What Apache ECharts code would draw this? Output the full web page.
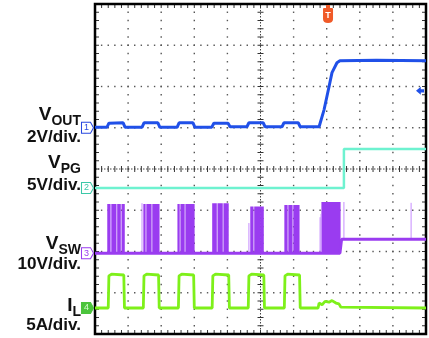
<!DOCTYPE html>
<html>
<head>
<meta charset="utf-8">
<script src="https://cdn.jsdelivr.net/npm/echarts@6/dist/echarts.min.js"></script>
<style>
  html, body { margin: 0; padding: 0; background: #fff; }
  #main { width: 429px; height: 338px; }
</style>
</head>
<body>
<div id="main"></div>
<script>
// time axis in scope divisions (0..10), each trace in its own unit

// channel setup: volts (or amps) per division and zero-marker offset (div from centre)
const chScale = [2, 5, 10, 5];
const chOffset = [1.0, -0.46, -2.04, -3.37];

// channel labels: main letter, subscript, scale text
const chName = ['V', 'V', 'V', 'I'];
const chSub = ['OUT', 'PG', 'SW', 'L'];
const chDiv = ['2V/div.', '5V/div.', '10V/div.', '5A/div.'];

// CH1 VOUT (V)
const vout = [
  [0, 0.02], [0.36, 0.02], [0.42, 0.22], [0.85, 0.24], [0.91, 0.02],
  [1.42, 0.02], [1.48, 0.24], [1.90, 0.24], [1.96, 0.02],
  [2.48, 0.02], [2.54, 0.24], [2.96, 0.24], [3.02, 0.02],
  [3.53, 0.03], [3.59, 0.22], [4.02, 0.22], [4.08, 0.05],
  [4.59, 0.05], [4.65, 0.24], [5.08, 0.24], [5.14, 0.05],
  [5.65, 0.05], [5.71, 0.24], [6.14, 0.24], [6.20, 0.05],
  [6.77, 0.05], [6.92, 0.87], [7.07, 1.99], [7.16, 2.67], [7.31, 3.15],
  [7.40, 3.25], [8.5, 3.27], [10, 3.25]
];

// CH2 VPG (V)
const vpg = [[0, 0], [7.52, 0], [7.52, 4.73], [10, 4.73]];

// CH3 VSW (V): baseline, switching bursts and lone spikes
const vswBase = [[0, 0], [7.40, 0], [7.45, 3.4], [10, 3.4]];
const vswBursts = [
  [0.39, 0.42, 0.45, 0.51, 0.54, 0.57, 0.60, 0.63, 0.69, 0.73, 0.76, 0.82, 0.85, 0.88],
  [1.48, 1.51, 1.57, 1.60, 1.63, 1.66, 1.69, 1.75, 1.78, 1.81, 1.84, 1.87, 1.90, 1.93],
  [2.51, 2.54, 2.60, 2.63, 2.66, 2.69, 2.75, 2.78, 2.81, 2.84, 2.87, 2.90, 2.93, 2.96, 2.99],
  [3.56, 3.60, 3.63, 3.66, 3.72, 3.75, 3.78, 3.81, 3.84, 3.90, 3.93, 3.96, 3.99, 4.02],
  [4.71, 4.74, 4.77, 4.83, 4.86, 4.89, 4.92, 4.95, 4.98, 5.02, 5.05, 5.08],
  [5.74, 5.77, 5.80, 5.86, 5.89, 5.92, 5.95, 6.01, 6.04, 6.07, 6.10, 6.13, 6.16],
  [6.86, 6.89, 6.92, 6.95, 6.98, 7.01, 7.04, 7.07, 7.10, 7.13, 7.16, 7.19, 7.22, 7.25, 7.28, 7.31, 7.34, 7.37, 7.40]
];
const vswBurstTop = [11.9, 11.9, 11.9, 12.1, 11.3, 11.7, 12.4];
const vswLight = [[0.48, 11.9], [1.42, 12.1], [4.65, 7.3], [6.80, 8.7], [6.83, 9.5], [7.52, 12.4], [9.55, 12.2]];

// CH4 IL (A)
const il = [
  [0, 0], [0.40, 0], [0.42, 3.9], [0.50, 4.1], [0.87, 4.0], [0.89, 0],
  [1.46, 0], [1.48, 3.9], [1.56, 4.1], [1.92, 4.0], [1.94, 0],
  [2.52, 0], [2.54, 3.9], [2.62, 4.1], [2.98, 4.0], [3.00, 0],
  [3.54, 0], [3.56, 3.9], [3.64, 4.1], [4.04, 4.0], [4.06, 0],
  [4.63, 0], [4.65, 3.9], [4.73, 4.1], [5.10, 4.0], [5.12, 0],
  [5.72, 0], [5.74, 3.9], [5.82, 4.1], [6.18, 4.0], [6.20, 0],
  [6.74, 0], [6.77, 0.6], [6.86, 0.4], [6.95, 0.8], [7.07, 0.7], [7.16, 0.9],
  [7.28, 0.6], [7.37, 0.5], [7.43, 0.1], [10, 0]
];

const colors = { vout: '#2050e8', vpg: '#6ef2d0', vsw: '#9a3cf0', vswLight: '#c68cff', il: '#7ef01a', trig: '#f05a28' };
const tagColors = ['#2848e0', '#3cc8a8', '#9a3cf0', '#4cc43c'];

const chart = echarts.init(document.getElementById('main'));

function spikes(bursts, tops) {
  const pts = [];
  bursts.forEach((b, i) => b.forEach(t => { pts.push([t, 0], [t, tops[i]], [t, 0], null); }));
  return pts;
}
function loneSpikes(list) {
  const pts = [];
  list.forEach(([t, v]) => { pts.push([t, t > 7.43 ? 3.4 : 0], [t, v], null); });
  return pts;
}

function graticule(params, api) {
  const kids = [];
  const P = (a, b) => api.coord([a, b]);
  const dot = (p) => kids.push({ type: 'rect', shape: { x: p[0] - 0.7, y: p[1] - 0.7, width: 1.4, height: 1.4 }, style: { fill: '#555' } });
  const seg = (x1, y1, x2, y2, w, c, dash) => kids.push({ type: 'line', shape: { x1, y1, x2, y2 }, style: { stroke: c, lineWidth: w, lineDash: dash || null } });
  for (let i = 1; i < 10; i++) if (i !== 5) for (let j = 1; j < 40; j++) dot(P(i, -4 + j * 0.2));
  for (let k = -3; k <= 3; k++) if (k !== 0) for (let j = 1; j < 50; j++) dot(P(j * 0.2, k));
  const c = P(5, 0), tl = P(0, 4), br = P(10, -4);
  seg(c[0], tl[1], c[0], br[1], 1, '#444', [1.5, 1.5]);
  seg(tl[0], c[1], br[0], c[1], 1, '#444', [1.5, 1.5]);
  for (let j = 1; j < 40; j++) { const p = P(5, -4 + j * 0.2); seg(p[0] - 3, p[1], p[0] + 3, p[1], 1, '#333'); }
  for (let j = 1; j < 50; j++) { const p = P(j * 0.2, 0); seg(p[0], p[1] - 3, p[0], p[1] + 3, 1, '#333'); }
  for (let j = 1; j < 40; j++) {
    const p = P(0, -4 + j * 0.2), q = P(10, -4 + j * 0.2);
    seg(p[0], p[1], p[0] + 4, p[1], 1, '#333'); seg(q[0] - 4, q[1], q[0], q[1], 1, '#333');
  }
  for (let j = 1; j < 50; j++) {
    const p = P(j * 0.2, 4), q = P(j * 0.2, -4);
    seg(p[0], p[1], p[0], p[1] + 4, 1, '#333'); seg(q[0], q[1] - 4, q[0], q[1], 1, '#333');
  }
  kids.push({ type: 'rect', shape: { x: tl[0], y: tl[1], width: br[0] - tl[0], height: br[1] - tl[1] }, style: { fill: null, stroke: '#000', lineWidth: 2.5 } });
  return { type: 'group', children: kids };
}

const tagPath = 'path://M0,0 L9,0 L12,5 L9,10 L0,10 Z';
function chTag(i, filled) {
  const col = tagColors[i];
  return {
    coord: [0, 0], symbol: tagPath, symbolSize: [12, 11], symbolOffset: [-7.5, 0],
    itemStyle: { color: filled ? col : '#fff', borderColor: col, borderWidth: 1 },
    label: { show: true, formatter: String(i + 1), color: filled ? '#d8ffd0' : col, fontSize: 9, fontFamily: 'Liberation Sans', offset: [-1, 0] }
  };
}

const yAxes = [{ min: -4, max: 4, show: false }].concat(chScale.map((s, i) => ({
  min: (-4 - chOffset[i]) * s, max: (4 - chOffset[i]) * s, show: false
})));

// left-hand channel labels
const FONT = '"Liberation Sans", Arial, sans-serif';
const ctx = document.createElement('canvas').getContext('2d');
function textW(t, size) { ctx.font = 'bold ' + size + 'px ' + FONT; return ctx.measureText(t).width; }
const txt = (text, x, y, size, sx) => ({
  type: 'text', x, y, scaleX: sx || 1, silent: true,
  style: { text, font: 'bold ' + size + 'px ' + FONT, fill: '#111',
    align: 'right', textAlign: 'right', verticalAlign: 'middle', textVerticalAlign: 'middle' }
});
const labelY = [115, 163, 244, 306];   // centre of the large letter
const divY = [138, 186, 265, 326];
const labelRight = 81;
const graphics = [];
chName.forEach((n, i) => {
  const subW = textW(chSub[i], 14);
  graphics.push(txt(chSub[i], labelRight, labelY[i] + 6, 14));
  graphics.push(txt(n, labelRight - subW, labelY[i], 19));
  graphics.push(txt(chDiv[i], labelRight, divY[i], 16, 1.07));
});

chart.setOption({
  animation: false,
  grid: { left: 95, top: 4, width: 331, height: 330 },
  xAxis: { type: 'value', min: 0, max: 10, show: false },
  yAxis: yAxes,
  graphic: graphics,
  series: [
    { type: 'custom', renderItem: graticule, data: [[0, 0]], xAxisIndex: 0, yAxisIndex: 0, silent: true, z: 1 },
    { name: 'VPG', type: 'line', yAxisIndex: 2, data: vpg, showSymbol: false, z: 3,
      lineStyle: { color: colors.vpg, width: 2.5 }, markPoint: { silent: true, data: [chTag(1)] } },
    { name: 'VSW spikes', type: 'line', yAxisIndex: 3, data: spikes(vswBursts, vswBurstTop), showSymbol: false, z: 3,
      connectNulls: false, lineStyle: { color: colors.vsw, width: 1.3, join: 'bevel' } },
    { name: 'VSW light', type: 'line', yAxisIndex: 3, data: loneSpikes(vswLight), showSymbol: false, z: 3,
      lineStyle: { color: colors.vswLight, width: 1, join: 'bevel' } },
    { name: 'VSW', type: 'line', yAxisIndex: 3, data: vswBase, showSymbol: false, z: 4,
      lineStyle: { color: colors.vsw, width: 3 }, markPoint: { silent: true, data: [chTag(2)] } },
    { name: 'IL', type: 'line', yAxisIndex: 4, data: il, showSymbol: false, z: 4,
      lineStyle: { color: colors.il, width: 2.8, join: 'bevel' }, markPoint: { silent: true, data: [chTag(3, true)] } },
    { name: 'VOUT', type: 'line', yAxisIndex: 1, data: vout, showSymbol: false, z: 4,
      lineStyle: { color: colors.vout, width: 3 },
      markPoint: {
        silent: true,
        data: [
          chTag(0),
          { coord: [7.04, 6], symbol: 'path://M3,0 L7,0 L7,3 L9,3 Q10,3 10,4 L10,14 Q10,18 5,18 Q0,18 0,14 L0,4 Q0,3 1,3 L3,3 Z',
            symbolSize: [10, 18], symbolOffset: [0, 10], itemStyle: { color: colors.trig },
            label: { show: true, formatter: 'T', color: '#fff', fontSize: 9, fontWeight: 'bold', offset: [0, 2] } },
          { coord: [10, 1.79], symbol: 'path://M0,5 L6,0 L6,3 L10,3 L10,7 L6,7 L6,10 Z',
            symbolSize: [8, 8], symbolOffset: [-6, 0], itemStyle: { color: colors.vout }, label: { show: false } }
        ]
      } }
  ]
});
</script>
</body>
</html>
